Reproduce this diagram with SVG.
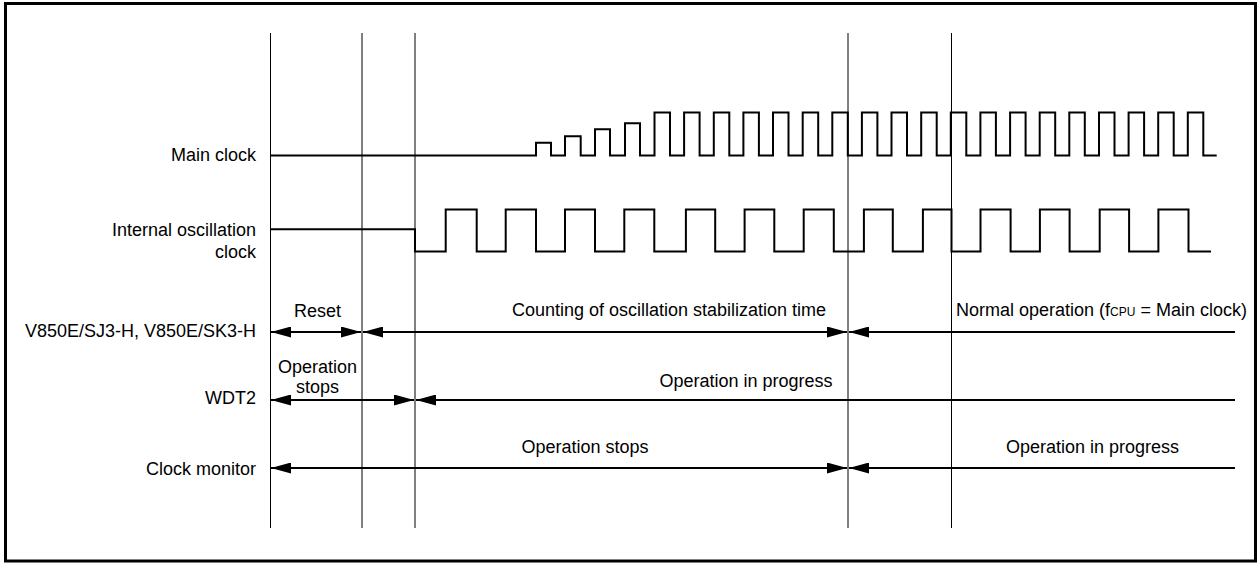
<svg xmlns="http://www.w3.org/2000/svg" width="1259" height="563" viewBox="0 0 1259 563">
<style>
text{font-family:"Liberation Sans",Arial,sans-serif;font-size:18px;fill:#000}
.r{text-anchor:end}
.c{text-anchor:middle}
.wave{fill:none;stroke:#000;stroke-width:2}
.grid{stroke:#000;stroke-width:1}
.arr{stroke:#000;stroke-width:2;fill:none}
.sub{font-size:12px}
</style>
<defs>
<marker id="ah" markerUnits="userSpaceOnUse" markerWidth="20" markerHeight="11" refX="20" refY="5.5" orient="auto-start-reverse" viewBox="0 0 20 11">
<path d="M0,0 L20,5.5 L0,11 Z" fill="#000"/>
</marker>
</defs>
<rect x="5.5" y="3.5" width="1250" height="557.5" fill="#fff" stroke="#000" stroke-width="3"/>
<g id="gridlines">
<line class="grid" x1="270.5" y1="33" x2="270.5" y2="528"/>
<line class="grid" x1="362" y1="33" x2="362" y2="528"/>
<line class="grid" x1="415" y1="33" x2="415" y2="528"/>
<line class="grid" x1="848" y1="33" x2="848" y2="528"/>
<line class="grid" x1="951.5" y1="33" x2="951.5" y2="528"/>
</g>
<g id="main-clock">
<text class="r" x="256" y="161">Main clock</text>
<path class="wave" d="M270,155.5 H536 V142.7 H551 V155.5 H565 V136.3 H580.7 V155.5 H595 V129.3 H610 V155.5 H625 V123.3 H640 V155.5 H654.5 V112.5 H670 V155.5 H684.1 V112.5 H699.6 V155.5 H713.8 V112.5 H729.3 V155.5 H743.4 V112.5 H758.9 V155.5 H773 V112.5 H788.5 V155.5 H802.7 V112.5 H818.2 V155.5 H832.3 V112.5 H847.8 V155.5 H861.9 V112.5 H877.4 V155.5 H891.5 V112.5 H907 V155.5 H921.2 V112.5 H936.7 V155.5 H950.8 V112.5 H966.3 V155.5 H980.4 V112.5 H995.9 V155.5 H1010.1 V112.5 H1025.6 V155.5 H1039.7 V112.5 H1055.2 V155.5 H1069.3 V112.5 H1084.8 V155.5 H1099 V112.5 H1114.5 V155.5 H1128.6 V112.5 H1144.1 V155.5 H1158.2 V112.5 H1173.7 V155.5 H1187.8 V112.5 H1203.3 V155.5 H1216.7"/>
</g>
<g id="internal-clock">
<text class="r" x="256" y="236">Internal oscillation</text>
<text class="r" x="256" y="258">clock</text>
<path class="wave" d="M270,229.3 H415 V251.5 H445.7 V209.5 H476.7 V251.5 H505.7 V209.5 H536 V251.5 H565 V209.5 H595 V251.5 H624.3 V209.5 H654.3 V251.5 H685.9 V209.5 H715.2 V251.5 H744.6 V209.5 H774.3 V251.5 H803.7 V209.5 H833.8 V251.5 H863.9 V209.5 H892.8 V251.5 H922.9 V209.5 H951.5 V251.5 H980.5 V209.5 H1010.6 V251.5 H1039.9 V209.5 H1069.6 V251.5 H1099.7 V209.5 H1129.1 V251.5 H1158.4 V209.5 H1188.5 V251.5 H1211"/>
</g>
<g id="row-v850">
<text class="r" x="256" y="337">V850E/SJ3-H, V850E/SK3-H</text>
<text class="c" x="317.5" y="317">Reset</text>
<text class="c" x="669" y="316">Counting of oscillation stabilization time</text>
<text x="956" y="316">Normal operation (f<tspan class="sub">CPU</tspan> = Main clock)</text>
</g>
<g id="row-wdt2">
<text class="r" x="256" y="404">WDT2</text>
<text class="c" x="317.5" y="373">Operation</text>
<text class="c" x="317.5" y="393">stops</text>
<text class="c" x="746" y="387">Operation in progress</text>
</g>
<g id="row-clock-monitor">
<text class="r" x="256" y="475">Clock monitor</text>
<text class="c" x="585" y="453">Operation stops</text>
<text class="c" x="1092.5" y="453">Operation in progress</text>
</g>
<g id="connectors">
<line class="arr" x1="271" y1="332" x2="361" y2="332" marker-start="url(#ah)" marker-end="url(#ah)"/>
<line class="arr" x1="363" y1="332" x2="847" y2="332" marker-start="url(#ah)" marker-end="url(#ah)"/>
<line class="arr" x1="849" y1="332" x2="1235" y2="332" marker-start="url(#ah)"/>
<line class="arr" x1="271" y1="400" x2="414" y2="400" marker-start="url(#ah)" marker-end="url(#ah)"/>
<line class="arr" x1="416" y1="400" x2="1235" y2="400" marker-start="url(#ah)"/>
<line class="arr" x1="271" y1="468" x2="847" y2="468" marker-start="url(#ah)" marker-end="url(#ah)"/>
<line class="arr" x1="849" y1="468" x2="1235" y2="468" marker-start="url(#ah)"/>
</g>
</svg>
